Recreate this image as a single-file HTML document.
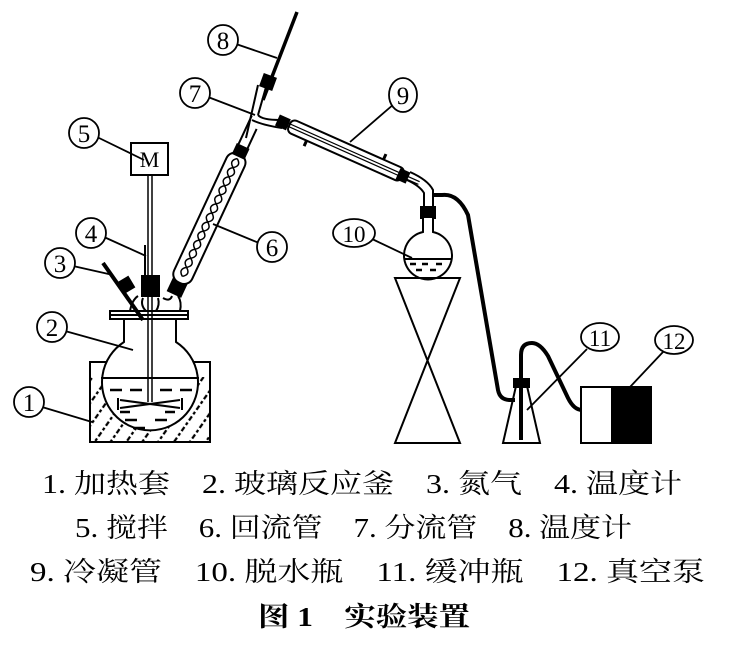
<!DOCTYPE html>
<html><head><meta charset="utf-8"><style>
html,body{margin:0;padding:0;background:#fff}
svg{display:block}
text{font-family:"Liberation Serif","Noto Serif CJK SC",serif;fill:#000}
</style></head><body>
<svg width="736" height="656" viewBox="0 0 736 656" xmlns="http://www.w3.org/2000/svg">
<defs>
<pattern id="h" width="13" height="13" patternUnits="userSpaceOnUse" patternTransform="rotate(-55)">
<line x1="0" y1="6" x2="13" y2="6" stroke="#000" stroke-width="2.2" stroke-dasharray="3 2.5"/>
</pattern>
</defs>
<g stroke="#000" fill="none" stroke-width="2">
<rect x="90" y="362" width="120" height="80" fill="url(#h)"/>
<rect x="91" y="363" width="118" height="14" fill="#fff" stroke="none"/>
<path d="M124,318 L124,342 A48,48 0 1 0 176,342 L176,318" fill="#fff"/>
<line x1="101" y1="378" x2="199" y2="378"/>
<g stroke-width="2.5">
<path d="M110,390h12M130,390h12M160,390h12M180,390h12M120,412h10M165,412h10M125,420h12M155,420h12M133,428h12"/>
</g>
<path d="M120,400 L180,408 M120,408 L180,400 M118,398v12 M182,398v12"/>
<rect x="110" y="311" width="78" height="8" fill="#fff"/>
<line x1="110" y1="315" x2="188" y2="315"/>
<path d="M130,311 Q132,300 138,296 M143,298 Q140,305 146,311 M158,298 Q160,305 156,311 M163,298 Q170,302 172,296 M180,311 Q182,302 178,296"/>
<rect x="142" y="276" width="17" height="20" fill="#000"/>
<line x1="148" y1="175" x2="148" y2="402" stroke-width="1.5"/>
<line x1="152" y1="175" x2="152" y2="402" stroke-width="1.5"/>
<line x1="145" y1="245" x2="145" y2="276"/>
<line x1="103" y1="263" x2="143" y2="320" stroke-width="4"/>
<path d="M118,283 l10,-6 l6,10 l-10,6z" fill="#000"/>
<rect x="131" y="143" width="37" height="32" fill="#fff"/>
</g>
<text x="149.5" y="167" font-size="22" text-anchor="middle">M</text>
<g transform="translate(176,290) rotate(-65)" stroke="#000" fill="none" stroke-width="2">
<rect x="-4" y="-7" width="14" height="14" fill="#000"/>
<rect x="8" y="-10" width="142" height="20" rx="9" fill="#fff"/>
<path d="M15,0 q5,-7 10,0 q5,7 10,0 q5,-7 10,0 q5,7 10,0 q5,-7 10,0 q5,7 10,0 q5,-7 10,0 q5,7 10,0 q5,-7 10,0 q5,7 10,0 q5,-7 10,0 q5,7 10,0 q5,-7 10,0" stroke-width="1.5"/>
<path d="M15,0 q5,7 10,0 q5,-7 10,0 q5,7 10,0 q5,-7 10,0 q5,7 10,0 q5,-7 10,0 q5,7 10,0 q5,-7 10,0 q5,7 10,0 q5,-7 10,0 q5,7 10,0 q5,-7 10,0 q5,7 10,0" stroke-width="1.5"/>
<rect x="148" y="-6" width="10" height="12" fill="#000"/>
<path d="M158,-5 L190,-5 M158,5 L180,5"/>
</g>
<g stroke="#000" fill="none" stroke-width="2">
<path d="M258,85 L246,138 M266,87 L258,115"/>
<path d="M258,115 Q262,120 280,120 M252,120 Q262,125 282,128"/>
<rect x="262" y="76" width="12" height="12" fill="#000" transform="rotate(20 268 82)"/>
<line x1="297" y1="12" x2="263" y2="100" stroke-width="3.5"/>
<g transform="translate(282,122) rotate(24)">
<rect x="-4" y="-5" width="10" height="10" fill="#000"/>
<rect x="8" y="-7" width="124" height="14" rx="5" fill="#fff"/>
<path d="M4,-1.5H150 M4,1.5H150" stroke-width="1.2"/>
<rect x="128" y="-5" width="9" height="10" fill="#000"/>
<path d="M30,7 v6 M108,-7 v-6" stroke-width="3"/>
</g>
<path d="M410,172 Q428,180 433,190 L433,207 M407,180 Q420,186 424,193 L424,207"/>
<rect x="421" y="207" width="14" height="11" fill="#000"/>
<path d="M423,218 L423,232 A24,24 0 1 0 433,232 L433,218" fill="#fff"/>
<line x1="405" y1="259" x2="451" y2="259"/>
<path d="M410,264h6M422,264h6M436,264h6M416,270h6M430,270h6" stroke-width="2.5"/>
<path d="M395,278 H460 L395,443 H460 L395,278 Z"/>
<path d="M434,195 H442 Q458,193 468,215 L498,390 Q500,400 510,400 L515,400" stroke-width="4"/>
<path d="M516,386 L503,443 H540 L527,386"/>
<rect x="514" y="379" width="15" height="8" fill="#000"/>
<path d="M521,440 V355 Q521,343 532,343 Q540,343 548,356 L568,398 Q574,410 582,410" stroke-width="4"/>
<rect x="581" y="387" width="70" height="56" fill="#fff"/>
<rect x="612" y="387" width="39" height="56" fill="#000"/>
<g stroke-width="1.8">
<line x1="42" y1="407" x2="92" y2="422"/>
<line x1="65" y1="331" x2="133" y2="350"/>
<line x1="73" y1="266" x2="113" y2="275"/>
<line x1="104" y1="237" x2="146" y2="256"/>
<line x1="97" y1="137" x2="144" y2="160"/>
<line x1="259" y1="243" x2="213" y2="224"/>
<line x1="208" y1="97" x2="255" y2="115"/>
<line x1="236" y1="44" x2="277" y2="58"/>
<line x1="394" y1="104" x2="350" y2="142"/>
<line x1="370" y1="238" x2="412" y2="258"/>
<line x1="587" y1="349" x2="527" y2="410"/>
<line x1="663" y1="352" x2="630" y2="387"/>
</g>
<g fill="#fff" stroke-width="1.8">
<circle cx="29" cy="402" r="15"/>
<circle cx="52" cy="327" r="15"/>
<circle cx="60" cy="263" r="15"/>
<circle cx="91" cy="233" r="15"/>
<circle cx="84" cy="133" r="15"/>
<circle cx="272" cy="247" r="15"/>
<circle cx="195" cy="93" r="15"/>
<circle cx="223" cy="40" r="15"/>
<ellipse cx="403" cy="95" rx="14" ry="17"/>
<ellipse cx="354" cy="233" rx="21" ry="14"/>
<ellipse cx="600" cy="337" rx="19" ry="14"/>
<ellipse cx="674" cy="340" rx="19" ry="14"/>
</g>
</g>
<g font-size="25" text-anchor="middle">
<text x="29" y="411">1</text>
<text x="52" y="336">2</text>
<text x="60" y="272">3</text>
<text x="91" y="242">4</text>
<text x="84" y="142">5</text>
<text x="272" y="256">6</text>
<text x="195" y="102">7</text>
<text x="223" y="49">8</text>
<text x="403" y="104">9</text>
<text x="354" y="242" font-size="23">10</text>
<text x="600" y="346" font-size="23">11</text>
<text x="674" y="349" font-size="23">12</text>
</g>
<g font-size="27">
<text x="42" y="493" textLength="640" lengthAdjust="spacingAndGlyphs">1. 加热套　2. 玻璃反应釜　3. 氮气　4. 温度计</text>
<text x="75" y="537" textLength="557" lengthAdjust="spacingAndGlyphs">5. 搅拌　6. 回流管　7. 分流管　8. 温度计</text>
<text x="30" y="581" textLength="675" lengthAdjust="spacingAndGlyphs">9. 冷凝管　10. 脱水瓶　11. 缓冲瓶　12. 真空泵</text>
<text x="258" y="626" font-weight="bold" textLength="212" lengthAdjust="spacingAndGlyphs">图 1　实验装置</text>
</g>
</svg>
</body></html>
